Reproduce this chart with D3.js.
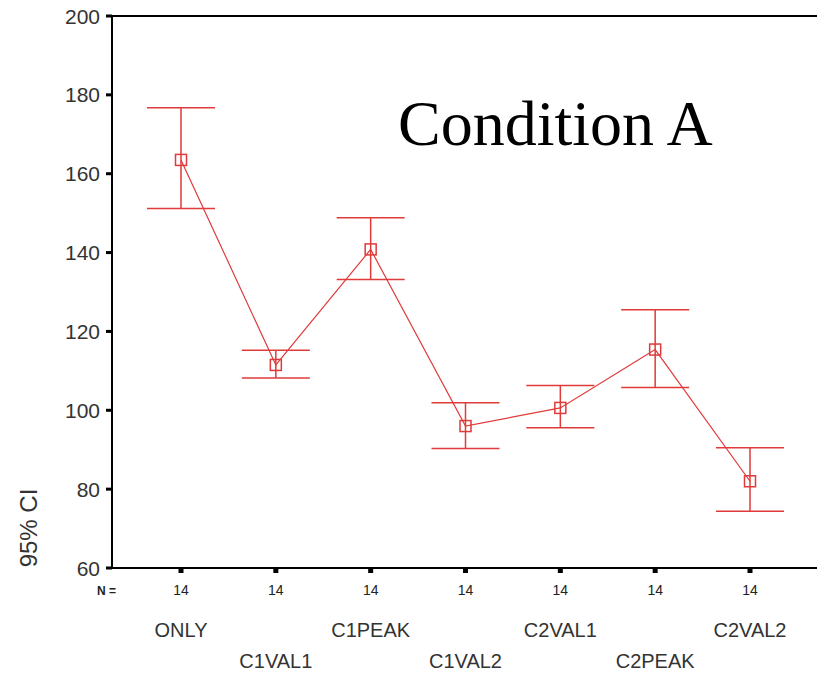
<!DOCTYPE html>
<html>
<head>
<meta charset="utf-8">
<script src="https://cdn.jsdelivr.net/npm/d3@7"></script>
<style>
  body { margin: 0; background: #fff; }
  svg { display: block; }
</style>
</head>
<body>
<div id="chart"></div>
<script>
var categories = ["ONLY", "C1VAL1", "C1PEAK", "C1VAL2", "C2VAL1", "C2PEAK", "C2VAL2"];
var means = [163.5, 111.5, 140.8, 96.0, 100.6, 115.4, 82.0];
var upper = [176.7, 115.2, 148.8, 101.9, 106.3, 125.5, 90.5];
var lower = [151.2, 108.2, 133.2, 90.3, 95.6, 105.8, 74.4];
var counts = [14, 14, 14, 14, 14, 14, 14];
var yTicks = [60, 80, 100, 120, 140, 160, 180, 200];

var width = 817, height = 676;
var red = "#e03a3a";
var sans = "'Liberation Sans', Arial, sans-serif";

var svg = d3.select("#chart").append("svg")
    .attr("width", width)
    .attr("height", height);

var x = d3.scalePoint().domain(categories).range([181, 750]);
var y = d3.scaleLinear().domain([60, 200]).range([568, 16]);

// frame: left axis, top line, bottom axis
svg.append("line").attr("x1", 112).attr("x2", 112).attr("y1", 16).attr("y2", 569)
   .attr("stroke", "#000").attr("stroke-width", 2);
svg.append("line").attr("x1", 111).attr("x2", 817).attr("y1", 16).attr("y2", 16)
   .attr("stroke", "#000").attr("stroke-width", 2);
svg.append("line").attr("x1", 111).attr("x2", 817).attr("y1", 568).attr("y2", 568)
   .attr("stroke", "#000").attr("stroke-width", 2);

// y ticks
var yAxis = svg.append("g");
yAxis.selectAll("rect").data(yTicks).enter().append("rect")
   .attr("x", 106).attr("y", function(d){ return y(d) - 1.5; })
   .attr("width", 6).attr("height", 3).attr("fill", "#000");
yAxis.selectAll("text").data(yTicks).enter().append("text")
   .attr("x", 100).attr("y", function(d){ return y(d) + 7.5; })
   .attr("text-anchor", "end")
   .style("font-family", sans)
   .style("font-size", "21px").attr("fill", "#333")
   .text(function(d){ return d; });

svg.append("text")
   .attr("transform", "translate(37,528) rotate(-90)")
   .attr("text-anchor", "middle")
   .style("font-family", sans)
   .style("font-size", "24px").attr("fill", "#333")
   .text("95% CI");

// x ticks
var xAxis = svg.append("g");
xAxis.selectAll("rect").data(categories).enter().append("rect")
   .attr("x", function(d){ return x(d) - 2.5; }).attr("y", 569)
   .attr("width", 5).attr("height", 4).attr("fill", "#000");
xAxis.selectAll("text.n").data(categories).enter().append("text")
   .attr("class", "n")
   .attr("x", function(d){ return x(d); }).attr("y", 595)
   .attr("text-anchor", "middle")
   .style("font-family", sans)
   .style("font-size", "14px").attr("fill", "#222")
   .text(function(d, i){ return counts[i]; });
svg.append("text").attr("x", 97).attr("y", 595)
   .style("font-family", sans)
   .style("font-size", "12px").style("font-weight", "bold").attr("fill", "#222")
   .text("N =");
xAxis.selectAll("text.cat").data(categories).enter().append("text")
   .attr("class", "cat")
   .attr("x", function(d){ return x(d); })
   .attr("y", function(d, i){ return i % 2 === 0 ? 637 : 668; })
   .attr("text-anchor", "middle")
   .style("font-family", sans)
   .style("font-size", "20px").attr("fill", "#333")
   .text(function(d){ return d; });

// error bars
var bars = svg.append("g").attr("stroke", red).attr("stroke-width", 1.5).attr("fill", "none");
categories.forEach(function(c, i) {
  var cx = x(c);
  bars.append("line").attr("x1", cx).attr("x2", cx).attr("y1", y(upper[i])).attr("y2", y(lower[i]));
  bars.append("line").attr("x1", cx - 34).attr("x2", cx + 34).attr("y1", y(upper[i])).attr("y2", y(upper[i]));
  bars.append("line").attr("x1", cx - 34).attr("x2", cx + 34).attr("y1", y(lower[i])).attr("y2", y(lower[i]));
});

// mean line
var line = d3.line()
    .x(function(d, i){ return x(categories[i]); })
    .y(function(d){ return y(d); });
svg.append("path").attr("d", line(means))
   .attr("fill", "none").attr("stroke", red).attr("stroke-width", 1.2);

svg.append("g").selectAll("rect").data(means).enter().append("rect")
   .attr("x", function(d, i){ return x(categories[i]) - 5.5; })
   .attr("y", function(d){ return y(d) - 5.5; })
   .attr("width", 11).attr("height", 11)
   .attr("fill", "none").attr("stroke", red).attr("stroke-width", 1.5);

// title
svg.append("text").attr("x", 398).attr("y", 145)
   .style("font-family", "'Liberation Serif', 'Times New Roman', serif")
   .style("font-size", "64px").attr("fill", "#000")
   .text("Condition A");
</script>
</body>
</html>
